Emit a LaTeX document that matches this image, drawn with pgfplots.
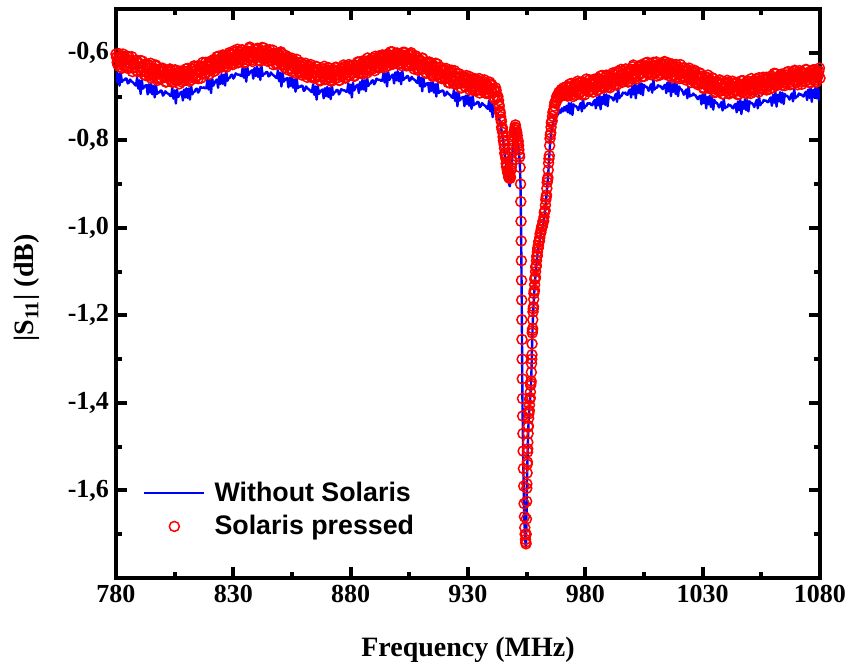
\documentclass[border=0pt]{standalone}
\usepackage{fontspec}
\setmainfont{Liberation Serif}
\newfontfamily\arialfont{Liberation Sans}
\usepackage{pgfplots}
\usepackage{pgfplotstable}
\pgfplotsset{compat=1.18}
\pgfplotstableread{
x b r
780 -0.644 -0.603
780.5 -0.668 -0.622
781 -0.648 -0.613
781.5 -0.675 -0.632
782 -0.645 -0.609
782.5 -0.667 -0.621
783 -0.662 -0.603
783.5 -0.663 -0.630
784 -0.659 -0.616
784.5 -0.659 -0.634
785 -0.670 -0.621
785.5 -0.668 -0.609
786 -0.661 -0.632
786.5 -0.665 -0.618
787 -0.667 -0.643
787.5 -0.669 -0.623
788 -0.673 -0.632
788.5 -0.675 -0.618
789 -0.657 -0.642
789.5 -0.682 -0.623
790 -0.663 -0.633
790.5 -0.694 -0.618
791 -0.663 -0.643
791.5 -0.682 -0.633
792 -0.678 -0.650
792.5 -0.675 -0.627
793 -0.674 -0.643
793.5 -0.695 -0.626
794 -0.672 -0.651
794.5 -0.691 -0.635
795 -0.671 -0.658
795.5 -0.695 -0.640
796 -0.676 -0.635
796.5 -0.702 -0.651
797 -0.672 -0.628
797.5 -0.694 -0.649
798 -0.690 -0.659
798.5 -0.691 -0.643
799 -0.686 -0.657
799.5 -0.687 -0.638
800 -0.698 -0.638
800.5 -0.695 -0.656
801 -0.688 -0.648
801.5 -0.691 -0.666
802 -0.693 -0.643
802.5 -0.694 -0.654
803 -0.698 -0.637
803.5 -0.699 -0.663
804 -0.681 -0.649
804.5 -0.705 -0.667
805 -0.686 -0.654
805.5 -0.716 -0.641
806 -0.684 -0.663
806.5 -0.701 -0.647
807 -0.696 -0.671
807.5 -0.691 -0.649
808 -0.689 -0.657
808.5 -0.709 -0.642
809 -0.684 -0.664
809.5 -0.702 -0.644
810 -0.681 -0.653
810.5 -0.703 -0.636
811 -0.682 -0.659
811.5 -0.707 -0.647
812 -0.675 -0.662
812.5 -0.695 -0.637
813 -0.690 -0.652
813.5 -0.689 -0.633
814 -0.683 -0.656
814.5 -0.682 -0.638
815 -0.691 -0.659
815.5 -0.687 -0.639
816 -0.678 -0.632
816.5 -0.680 -0.647
817 -0.680 -0.622
817.5 -0.679 -0.640
818 -0.681 -0.648
818.5 -0.681 -0.630
819 -0.661 -0.643
819.5 -0.684 -0.622
820 -0.663 -0.620
820.5 -0.692 -0.637
821 -0.659 -0.627
821.5 -0.675 -0.643
822 -0.669 -0.618
822.5 -0.664 -0.628
823 -0.661 -0.609
823.5 -0.680 -0.634
824 -0.654 -0.617
824.5 -0.671 -0.634
825 -0.649 -0.619
825.5 -0.671 -0.605
826 -0.650 -0.626
826.5 -0.675 -0.610
827 -0.643 -0.633
827.5 -0.664 -0.612
828 -0.658 -0.619
828.5 -0.657 -0.603
829 -0.651 -0.625
829.5 -0.650 -0.604
830 -0.659 -0.612
830.5 -0.655 -0.595
831 -0.647 -0.619
831.5 -0.649 -0.607
832 -0.650 -0.623
832.5 -0.650 -0.598
833 -0.652 -0.612
833.5 -0.653 -0.594
834 -0.633 -0.617
834.5 -0.657 -0.600
835 -0.636 -0.621
835.5 -0.666 -0.602
836 -0.634 -0.596
836.5 -0.651 -0.611
837 -0.646 -0.587
837.5 -0.642 -0.607
838 -0.640 -0.616
838.5 -0.659 -0.598
839 -0.635 -0.612
839.5 -0.653 -0.592
840 -0.632 -0.591
840.5 -0.655 -0.609
841 -0.636 -0.601
841.5 -0.662 -0.619
842 -0.631 -0.595
842.5 -0.653 -0.607
843 -0.648 -0.589
843.5 -0.648 -0.615
844 -0.644 -0.601
844.5 -0.644 -0.619
845 -0.654 -0.605
845.5 -0.652 -0.593
846 -0.645 -0.616
846.5 -0.649 -0.602
847 -0.651 -0.627
847.5 -0.653 -0.607
848 -0.656 -0.615
848.5 -0.658 -0.601
849 -0.640 -0.625
849.5 -0.665 -0.606
850 -0.646 -0.616
850.5 -0.677 -0.601
851 -0.646 -0.626
851.5 -0.666 -0.617
852 -0.662 -0.634
852.5 -0.659 -0.611
853 -0.658 -0.627
853.5 -0.679 -0.610
854 -0.657 -0.636
854.5 -0.676 -0.620
855 -0.656 -0.643
855.5 -0.680 -0.625
856 -0.661 -0.620
856.5 -0.689 -0.638
857 -0.659 -0.615
857.5 -0.681 -0.636
858 -0.677 -0.646
858.5 -0.678 -0.630
859 -0.675 -0.646
859.5 -0.676 -0.627
860 -0.687 -0.627
860.5 -0.685 -0.646
861 -0.677 -0.637
861.5 -0.681 -0.656
862 -0.683 -0.633
862.5 -0.685 -0.645
863 -0.688 -0.627
863.5 -0.690 -0.654
864 -0.672 -0.640
864.5 -0.696 -0.658
865 -0.677 -0.645
865.5 -0.707 -0.632
866 -0.676 -0.655
866.5 -0.694 -0.640
867 -0.689 -0.664
867.5 -0.686 -0.644
868 -0.684 -0.652
868.5 -0.704 -0.637
869 -0.681 -0.661
869.5 -0.699 -0.641
870 -0.678 -0.650
870.5 -0.701 -0.634
871 -0.681 -0.658
871.5 -0.706 -0.646
872 -0.675 -0.662
872.5 -0.696 -0.638
873 -0.691 -0.653
873.5 -0.690 -0.634
874 -0.685 -0.658
874.5 -0.685 -0.641
875 -0.695 -0.663
875.5 -0.691 -0.643
876 -0.683 -0.637
876.5 -0.685 -0.652
877 -0.686 -0.628
877.5 -0.686 -0.647
878 -0.689 -0.656
878.5 -0.689 -0.638
879 -0.670 -0.652
879.5 -0.693 -0.631
880 -0.673 -0.630
880.5 -0.702 -0.647
881 -0.669 -0.637
881.5 -0.686 -0.654
882 -0.680 -0.629
882.5 -0.675 -0.639
883 -0.673 -0.621
883.5 -0.692 -0.646
884 -0.667 -0.630
884.5 -0.684 -0.647
885 -0.662 -0.632
885.5 -0.684 -0.618
886 -0.663 -0.639
886.5 -0.688 -0.623
887 -0.656 -0.646
887.5 -0.676 -0.624
888 -0.671 -0.632
888.5 -0.670 -0.616
889 -0.664 -0.638
889.5 -0.663 -0.617
890 -0.672 -0.625
890.5 -0.668 -0.608
891 -0.659 -0.631
891.5 -0.661 -0.619
892 -0.662 -0.635
892.5 -0.662 -0.610
893 -0.664 -0.624
893.5 -0.664 -0.605
894 -0.645 -0.629
894.5 -0.668 -0.611
895 -0.647 -0.632
895.5 -0.677 -0.613
896 -0.644 -0.606
896.5 -0.662 -0.622
897 -0.657 -0.598
897.5 -0.652 -0.617
898 -0.650 -0.626
898.5 -0.670 -0.609
899 -0.645 -0.622
899.5 -0.663 -0.602
900 -0.642 -0.601
900.5 -0.665 -0.619
901 -0.646 -0.611
901.5 -0.672 -0.629
902 -0.641 -0.605
902.5 -0.662 -0.616
903 -0.658 -0.599
903.5 -0.658 -0.625
904 -0.653 -0.610
904.5 -0.654 -0.629
905 -0.664 -0.615
905.5 -0.662 -0.603
906 -0.655 -0.626
906.5 -0.659 -0.612
907 -0.661 -0.637
907.5 -0.663 -0.617
908 -0.667 -0.626
908.5 -0.669 -0.612
909 -0.651 -0.636
909.5 -0.676 -0.617
910 -0.657 -0.627
910.5 -0.688 -0.612
911 -0.657 -0.637
911.5 -0.677 -0.628
912 -0.673 -0.645
912.5 -0.670 -0.622
913 -0.669 -0.638
913.5 -0.690 -0.621
914 -0.668 -0.647
914.5 -0.687 -0.631
915 -0.667 -0.654
915.5 -0.691 -0.636
916 -0.672 -0.631
916.5 -0.700 -0.649
917 -0.670 -0.626
917.5 -0.692 -0.647
918 -0.688 -0.657
918.5 -0.689 -0.641
919 -0.686 -0.657
919.5 -0.687 -0.638
920 -0.698 -0.638
920.5 -0.696 -0.657
921 -0.689 -0.649
921.5 -0.693 -0.668
922 -0.695 -0.645
922.5 -0.697 -0.657
923 -0.701 -0.640
923.5 -0.703 -0.667
924 -0.685 -0.653
924.5 -0.710 -0.672
925 -0.691 -0.659
925.5 -0.722 -0.647
926 -0.691 -0.670
926.5 -0.709 -0.655
927 -0.705 -0.680
927.5 -0.702 -0.660
928 -0.701 -0.669
928.5 -0.722 -0.655
929 -0.698 -0.678
929.5 -0.717 -0.659
930 -0.697 -0.669
930.5 -0.721 -0.654
931 -0.702 -0.679
931.5 -0.728 -0.668
932 -0.698 -0.685
932.5 -0.720 -0.662
933 -0.716 -0.678
933.5 -0.717 -0.661
934 -0.712 -0.685
934.5 -0.713 -0.669
935 -0.724 -0.692
935.5 -0.722 -0.674
936 -0.715 -0.669
936.5 -0.718 -0.685
937 -0.720 -0.662
937.5 -0.722 -0.683
938 -0.726 -0.693
938.5 -0.728 -0.677
939 -0.709 -0.691
939.5 -0.734 -0.672
940 -0.715 -0.672
940.5 -0.747 -0.692
941 -0.717 -0.685
941.5 -0.738 -0.706
942 -0.737 -0.686
942.5 -0.737 -0.701
943.0 -0.745 -0.709
943.3 -0.752 -0.722
943.6 -0.758 -0.733
943.9 -0.766 -0.746
944.2 -0.775 -0.757
944.5 -0.785 -0.775
944.8 -0.795 -0.782
945.1 -0.806 -0.800
945.4 -0.820 -0.809
945.7 -0.834 -0.829
946.0 -0.845 -0.836
946.3 -0.858 -0.853
946.6 -0.868 -0.858
946.9 -0.880 -0.874
947.2 -0.893 -0.876
947.5 -0.900 -0.886
947.8 -0.905 -0.880
948.1 -0.892 -0.884
948.4 -0.872 -0.862
948.7 -0.850 -0.846
949.0 -0.826 -0.818
949.3 -0.806 -0.803
949.6 -0.790 -0.781
949.9 -0.780 -0.776
950.2 -0.776 -0.765
950.5 -0.782 -0.777
950.8 -0.792 -0.782
951.1 -0.802 -0.798
951.4 -0.812 -0.802
951.7 -0.826 -0.822
952.0 -0.845 -0.838
952.2 -0.868 -0.862
952.4 -0.905 -0.900
952.5 -0.945 -0.940
952.6 -0.990 -0.985
952.68 -1.035 -1.030
952.76 -1.080 -1.075
952.83 -1.125 -1.120
952.90 -1.170 -1.165
952.96 -1.215 -1.210
953.02 -1.260 -1.255
953.08 -1.305 -1.300
953.14 -1.350 -1.345
953.21 -1.395 -1.390
953.30 -1.435 -1.430
953.40 -1.475 -1.470
953.50 -1.515 -1.510
953.62 -1.555 -1.550
953.75 -1.595 -1.590
953.90 -1.635 -1.630
954.05 -1.667 -1.660
954.20 -1.692 -1.685
954.35 -1.708 -1.700
954.50 -1.720 -1.712
954.62 -1.726 -1.718
954.72 -1.730 -1.722
954.80 -1.708 -1.700
954.90 -1.672 -1.665
955.00 -1.632 -1.625
955.10 -1.592 -1.585
955.20 -1.566 -1.560
955.30 -1.541 -1.535
955.40 -1.518 -1.512
955.50 -1.496 -1.490
955.60 -1.476 -1.470
955.70 -1.458 -1.452
955.85 -1.441 -1.435
956.00 -1.426 -1.420
956.20 -1.411 -1.405
956.40 -1.396 -1.390
956.60 -1.381 -1.375
956.80 -1.361 -1.355
957.00 -1.336 -1.330
957.15 -1.306 -1.300
957.30 -1.271 -1.265
957.45 -1.241 -1.235
957.60 -1.216 -1.210
957.80 -1.191 -1.185
958.00 -1.169 -1.163
958.20 -1.151 -1.145
958.40 -1.136 -1.130
958.60 -1.121 -1.115
958.80 -1.106 -1.100
959.00 -1.094 -1.088
959.20 -1.081 -1.075
959.40 -1.071 -1.065
959.60 -1.061 -1.055
959.80 -1.053 -1.047
960.00 -1.046 -1.040
960.30 -1.036 -1.030
960.60 -1.028 -1.022
960.90 -1.018 -1.012
961.20 -1.010 -1.004
961.50 -1.003 -0.997
961.80 -0.998 -0.992
962.10 -0.991 -0.985
962.40 -0.981 -0.975
962.70 -0.968 -0.962
963.00 -0.954 -0.948
963.30 -0.936 -0.930
963.60 -0.916 -0.910
963.90 -0.897 -0.890
964.20 -0.876 -0.868
964.50 -0.851 -0.842
964.80 -0.822 -0.812
965.10 -0.800 -0.788
965.40 -0.786 -0.770
965.70 -0.776 -0.757
966.00 -0.765 -0.745
966.40 -0.758 -0.733
966.80 -0.752 -0.722
967.20 -0.748 -0.714
967.60 -0.745 -0.708
968.00 -0.742 -0.703
968.50 -0.740 -0.696
969.00 -0.730 -0.700
969.50 -0.737 -0.689
970.00 -0.727 -0.695
970.50 -0.734 -0.686
971.00 -0.724 -0.692
971.50 -0.732 -0.685
972 -0.721 -0.677
972.5 -0.736 -0.699
973 -0.715 -0.679
973.5 -0.739 -0.687
974 -0.715 -0.670
974.5 -0.742 -0.694
975 -0.718 -0.682
975.5 -0.722 -0.697
976 -0.722 -0.673
976.5 -0.725 -0.687
977 -0.731 -0.669
977.5 -0.722 -0.692
978 -0.715 -0.674
978.5 -0.734 -0.696
979 -0.705 -0.676
979.5 -0.727 -0.670
980 -0.722 -0.685
980.5 -0.721 -0.660
981 -0.715 -0.680
981.5 -0.717 -0.688
982 -0.715 -0.670
982.5 -0.719 -0.684
983 -0.720 -0.663
983.5 -0.712 -0.661
984 -0.708 -0.678
984.5 -0.727 -0.669
985 -0.702 -0.686
985.5 -0.720 -0.661
986 -0.696 -0.672
986.5 -0.729 -0.653
987 -0.701 -0.678
987.5 -0.717 -0.663
988 -0.695 -0.680
988.5 -0.719 -0.665
989 -0.695 -0.651
989.5 -0.722 -0.673
990 -0.698 -0.657
990.5 -0.702 -0.680
991 -0.701 -0.658
991.5 -0.704 -0.665
992 -0.709 -0.649
992.5 -0.701 -0.672
993 -0.694 -0.651
993.5 -0.712 -0.659
994 -0.683 -0.642
994.5 -0.704 -0.665
995 -0.699 -0.653
995.5 -0.698 -0.668
996 -0.691 -0.643
996.5 -0.693 -0.657
997 -0.691 -0.638
997.5 -0.695 -0.662
998 -0.696 -0.644
998.5 -0.688 -0.665
999 -0.684 -0.645
999.5 -0.702 -0.638
1000 -0.677 -0.653
1000.5 -0.695 -0.628
1001 -0.671 -0.648
1001.5 -0.704 -0.656
1002 -0.676 -0.638
1002.5 -0.692 -0.652
1003 -0.670 -0.631
1003.5 -0.694 -0.629
1004 -0.670 -0.646
1004.5 -0.697 -0.637
1005 -0.673 -0.654
1005.5 -0.678 -0.630
1006 -0.677 -0.640
1006.5 -0.681 -0.622
1007 -0.687 -0.648
1007.5 -0.678 -0.632
1008 -0.672 -0.650
1008.5 -0.691 -0.636
1009 -0.662 -0.622
1009.5 -0.684 -0.644
1010 -0.680 -0.629
1010.5 -0.680 -0.653
1011 -0.674 -0.632
1011.5 -0.677 -0.640
1012 -0.676 -0.625
1012.5 -0.680 -0.648
1013 -0.683 -0.629
1013.5 -0.676 -0.638
1014 -0.673 -0.622
1014.5 -0.692 -0.646
1015 -0.668 -0.635
1015.5 -0.688 -0.652
1016 -0.664 -0.628
1016.5 -0.699 -0.644
1017 -0.672 -0.626
1017.5 -0.689 -0.651
1018 -0.669 -0.635
1018.5 -0.694 -0.657
1019 -0.672 -0.639
1019.5 -0.699 -0.633
1020 -0.677 -0.650
1020.5 -0.683 -0.627
1021 -0.684 -0.648
1021.5 -0.689 -0.658
1022 -0.696 -0.642
1022.5 -0.689 -0.657
1023 -0.684 -0.638
1023.5 -0.704 -0.638
1024 -0.677 -0.657
1024.5 -0.700 -0.649
1025 -0.697 -0.668
1025.5 -0.698 -0.645
1026 -0.693 -0.657
1026.5 -0.697 -0.640
1027 -0.697 -0.667
1027.5 -0.703 -0.654
1028 -0.706 -0.673
1028.5 -0.700 -0.660
1029 -0.698 -0.648
1029.5 -0.718 -0.671
1030 -0.695 -0.657
1030.5 -0.715 -0.682
1031 -0.692 -0.662
1031.5 -0.727 -0.671
1032 -0.701 -0.657
1032.5 -0.718 -0.681
1033 -0.698 -0.662
1033.5 -0.724 -0.672
1034 -0.702 -0.657
1034.5 -0.730 -0.682
1035 -0.708 -0.672
1035.5 -0.714 -0.689
1036 -0.714 -0.665
1036.5 -0.719 -0.681
1037 -0.725 -0.663
1037.5 -0.718 -0.688
1038 -0.713 -0.672
1038.5 -0.732 -0.694
1039 -0.705 -0.676
1039.5 -0.727 -0.670
1040 -0.724 -0.687
1040.5 -0.724 -0.663
1041 -0.718 -0.683
1041.5 -0.721 -0.692
1042 -0.720 -0.675
1042.5 -0.725 -0.690
1043 -0.727 -0.670
1043.5 -0.720 -0.669
1044 -0.717 -0.687
1044.5 -0.736 -0.678
1045 -0.712 -0.696
1045.5 -0.731 -0.672
1046 -0.706 -0.682
1046.5 -0.740 -0.664
1047 -0.712 -0.689
1047.5 -0.728 -0.674
1048 -0.707 -0.692
1048.5 -0.731 -0.677
1049 -0.708 -0.664
1049.5 -0.734 -0.685
1050 -0.711 -0.670
1050.5 -0.715 -0.693
1051 -0.715 -0.672
1051.5 -0.718 -0.679
1052 -0.724 -0.664
1052.5 -0.715 -0.686
1053 -0.708 -0.665
1053.5 -0.727 -0.674
1054 -0.698 -0.657
1054.5 -0.720 -0.681
1055 -0.715 -0.669
1055.5 -0.714 -0.684
1056 -0.708 -0.660
1056.5 -0.710 -0.674
1057 -0.709 -0.656
1057.5 -0.712 -0.679
1058 -0.713 -0.661
1058.5 -0.706 -0.683
1059 -0.702 -0.663
1059.5 -0.721 -0.657
1060 -0.696 -0.672
1060.5 -0.714 -0.647
1061 -0.690 -0.667
1061.5 -0.723 -0.675
1062 -0.696 -0.658
1062.5 -0.711 -0.671
1063 -0.690 -0.651
1063.5 -0.714 -0.649
1064 -0.691 -0.667
1064.5 -0.717 -0.657
1065 -0.694 -0.675
1065.5 -0.699 -0.651
1066 -0.698 -0.661
1066.5 -0.702 -0.643
1067 -0.707 -0.668
1067.5 -0.699 -0.653
1068 -0.693 -0.671
1068.5 -0.711 -0.656
1069 -0.683 -0.643
1069.5 -0.704 -0.664
1070 -0.700 -0.649
1070.5 -0.700 -0.673
1071 -0.693 -0.651
1071.5 -0.696 -0.659
1072 -0.695 -0.644
1072.5 -0.698 -0.666
1073 -0.700 -0.646
1073.5 -0.693 -0.655
1074 -0.689 -0.638
1074.5 -0.708 -0.662
1075 -0.684 -0.651
1075.5 -0.703 -0.667
1076 -0.678 -0.642
1076.5 -0.712 -0.657
1077 -0.685 -0.639
1077.5 -0.701 -0.663
1078 -0.680 -0.646
1078.5 -0.704 -0.667
1079 -0.681 -0.648
1079.5 -0.708 -0.642
1080 -0.685 -0.658
}\data
\pgfplotstableread{
x r
780.25 -0.610
780.75 -0.627
781.25 -0.602
781.75 -0.620
782.25 -0.610
782.75 -0.635
783.25 -0.618
783.75 -0.610
784.25 -0.628
784.75 -0.608
785.25 -0.636
785.75 -0.617
786.25 -0.625
786.75 -0.609
787.25 -0.635
787.75 -0.624
788.25 -0.633
788.75 -0.617
789.25 -0.643
789.75 -0.624
790.25 -0.632
790.75 -0.643
791.25 -0.619
791.75 -0.639
792.25 -0.627
792.75 -0.652
793.25 -0.636
793.75 -0.628
794.25 -0.646
794.75 -0.624
795.25 -0.654
795.75 -0.639
796.25 -0.652
796.75 -0.630
797.25 -0.647
797.75 -0.663
798.25 -0.639
798.75 -0.643
799.25 -0.659
799.75 -0.635
800.25 -0.653
800.75 -0.642
801.25 -0.667
801.75 -0.650
802.25 -0.642
802.75 -0.659
803.25 -0.640
803.75 -0.667
804.25 -0.648
804.75 -0.655
805.25 -0.639
805.75 -0.664
806.25 -0.652
806.75 -0.659
807.25 -0.642
807.75 -0.666
808.25 -0.646
808.75 -0.653
809.25 -0.662
809.75 -0.637
810.25 -0.656
810.75 -0.642
811.25 -0.665
811.75 -0.647
812.25 -0.637
812.75 -0.653
813.25 -0.630
813.75 -0.658
814.25 -0.641
814.75 -0.652
815.25 -0.629
815.75 -0.644
816.25 -0.658
816.75 -0.632
817.25 -0.634
817.75 -0.648
818.25 -0.622
818.75 -0.638
819.25 -0.626
819.75 -0.649
820.25 -0.631
820.75 -0.621
821.25 -0.637
821.75 -0.615
822.25 -0.641
822.75 -0.620
823.25 -0.626
823.75 -0.608
824.25 -0.631
824.75 -0.618
825.25 -0.625
825.75 -0.607
826.25 -0.631
826.75 -0.610
827.25 -0.616
827.75 -0.626
828.25 -0.600
828.75 -0.618
829.25 -0.604
829.75 -0.627
830.25 -0.609
830.75 -0.599
831.25 -0.616
831.75 -0.592
832.25 -0.621
832.75 -0.604
833.25 -0.615
833.75 -0.593
834.25 -0.608
834.75 -0.623
835.25 -0.597
835.75 -0.600
836.25 -0.616
836.75 -0.590
837.25 -0.607
837.75 -0.596
838.25 -0.620
838.75 -0.602
839.25 -0.593
839.75 -0.610
840.25 -0.590
840.75 -0.617
841.25 -0.598
841.75 -0.605
842.25 -0.588
842.75 -0.614
843.25 -0.602
843.75 -0.610
844.25 -0.594
844.75 -0.619
845.25 -0.599
845.75 -0.607
846.25 -0.618
846.75 -0.594
847.25 -0.614
847.75 -0.602
848.25 -0.626
848.75 -0.610
849.25 -0.602
849.75 -0.620
850.25 -0.598
850.75 -0.628
851.25 -0.613
851.75 -0.627
852.25 -0.606
852.75 -0.623
853.25 -0.639
853.75 -0.615
854.25 -0.620
854.75 -0.637
855.25 -0.613
855.75 -0.631
856.25 -0.621
856.75 -0.647
857.25 -0.631
857.75 -0.623
858.25 -0.641
858.75 -0.622
859.25 -0.651
859.75 -0.632
860.25 -0.640
860.75 -0.624
861.25 -0.649
861.75 -0.638
862.25 -0.647
862.75 -0.631
863.25 -0.656
863.75 -0.637
864.25 -0.645
864.75 -0.655
865.25 -0.631
865.75 -0.650
866.25 -0.638
866.75 -0.662
867.25 -0.645
867.75 -0.637
868.25 -0.654
868.75 -0.631
869.25 -0.661
869.75 -0.645
870.25 -0.657
870.75 -0.635
871.25 -0.651
871.75 -0.665
872.25 -0.640
872.75 -0.643
873.25 -0.659
873.75 -0.633
874.25 -0.650
874.75 -0.639
875.25 -0.663
875.75 -0.645
876.25 -0.636
876.75 -0.652
877.25 -0.632
877.75 -0.658
878.25 -0.638
878.75 -0.644
879.25 -0.627
879.75 -0.651
880.25 -0.639
880.75 -0.646
881.25 -0.628
881.75 -0.652
882.25 -0.631
882.75 -0.637
883.25 -0.647
883.75 -0.621
884.25 -0.639
884.75 -0.625
885.25 -0.648
885.75 -0.630
886.25 -0.620
886.75 -0.636
887.25 -0.612
887.75 -0.640
888.25 -0.624
888.75 -0.635
889.25 -0.612
889.75 -0.627
890.25 -0.641
890.75 -0.615
891.25 -0.617
891.75 -0.632
892.25 -0.607
892.75 -0.623
893.25 -0.611
893.75 -0.634
894.25 -0.617
894.75 -0.607
895.25 -0.623
895.75 -0.603
896.25 -0.629
896.75 -0.609
897.25 -0.616
897.75 -0.598
898.25 -0.623
898.75 -0.611
899.25 -0.618
899.75 -0.601
900.25 -0.626
900.75 -0.606
901.25 -0.614
901.75 -0.624
902.25 -0.599
902.75 -0.618
903.25 -0.606
903.75 -0.630
904.25 -0.613
904.75 -0.605
905.25 -0.622
905.75 -0.600
906.25 -0.630
906.75 -0.615
907.25 -0.628
907.75 -0.607
908.25 -0.624
908.75 -0.640
909.25 -0.616
909.75 -0.620
910.25 -0.637
910.75 -0.613
911.25 -0.631
911.75 -0.622
912.25 -0.647
912.75 -0.631
913.25 -0.623
913.75 -0.641
914.25 -0.623
914.75 -0.651
915.25 -0.632
915.75 -0.640
916.25 -0.624
916.75 -0.651
917.25 -0.640
917.75 -0.649
918.25 -0.633
918.75 -0.659
919.25 -0.641
919.75 -0.649
920.25 -0.660
920.75 -0.636
921.25 -0.656
921.75 -0.644
922.25 -0.669
922.75 -0.653
923.25 -0.645
923.75 -0.663
924.25 -0.641
924.75 -0.671
925.25 -0.656
925.75 -0.669
926.25 -0.648
926.75 -0.664
927.25 -0.680
927.75 -0.656
928.25 -0.660
928.75 -0.677
929.25 -0.652
929.75 -0.670
930.25 -0.660
930.75 -0.685
931.25 -0.669
931.75 -0.660
932.25 -0.678
932.75 -0.659
933.25 -0.687
933.75 -0.668
934.25 -0.675
934.75 -0.659
935.25 -0.685
935.75 -0.674
936.25 -0.683
936.75 -0.666
937.25 -0.692
937.75 -0.673
938.25 -0.681
938.75 -0.692
939.25 -0.667
939.75 -0.687
940.25 -0.675
940.75 -0.701
941.25 -0.686
941.75 -0.680
942.25 -0.701
942.75 -0.700
943.15 -0.718
943.45 -0.735
943.75 -0.738
944.05 -0.752
944.35 -0.770
944.65 -0.771
944.95 -0.792
945.25 -0.803
945.55 -0.818
945.85 -0.832
946.15 -0.842
946.45 -0.861
946.75 -0.868
947.05 -0.870
947.35 -0.884
947.65 -0.876
947.95 -0.887
948.25 -0.869
948.55 -0.855
948.85 -0.828
949.15 -0.812
949.45 -0.790
949.75 -0.784
950.05 -0.770
950.35 -0.772
950.65 -0.786
950.95 -0.789
951.25 -0.808
951.55 -0.812
951.85 -0.832
955.05 -1.595
955.25 -1.540
955.45 -1.505
955.65 -1.455
955.90 -1.425
956.10 -1.417
956.30 -1.392
956.50 -1.388
956.70 -1.360
956.90 -1.350
957.10 -1.310
957.25 -1.290
957.40 -1.240
957.55 -1.230
957.70 -1.192
957.90 -1.180
958.10 -1.150
958.30 -1.142
958.50 -1.118
958.70 -1.112
958.90 -1.090
959.10 -1.086
959.30 -1.066
959.50 -1.063
959.70 -1.047
959.90 -1.046
960.15 -1.032
960.45 -1.030
960.75 -1.014
961.05 -1.010
961.35 -0.998
961.65 -0.997
961.95 -0.985
962.25 -0.984
962.55 -0.965
962.85 -0.960
963.15 -0.936
963.45 -0.925
963.75 -0.896
964.05 -0.885
964.35 -0.852
964.65 -0.835
964.95 -0.796
965.25 -0.783
965.55 -0.760
965.85 -0.755
966.20 -0.736
966.60 -0.730
967.00 -0.714
967.40 -0.715
967.80 -0.700
968.25 -0.705
968.75 -0.690
969.25 -0.697
969.75 -0.684
970.25 -0.698
970.75 -0.680
971.25 -0.696
971.75 -0.678
972.25 -0.688
972.75 -0.697
973.25 -0.672
973.75 -0.690
974.25 -0.676
974.75 -0.700
975.25 -0.682
975.75 -0.672
976.25 -0.689
976.75 -0.665
977.25 -0.694
977.75 -0.677
978.25 -0.688
978.75 -0.666
979.25 -0.681
979.75 -0.696
980.25 -0.670
980.75 -0.672
981.25 -0.688
981.75 -0.662
982.25 -0.678
982.75 -0.667
983.25 -0.690
983.75 -0.672
984.25 -0.662
984.75 -0.679
985.25 -0.658
985.75 -0.684
986.25 -0.664
986.75 -0.670
987.25 -0.652
987.75 -0.677
988.25 -0.664
988.75 -0.671
989.25 -0.653
989.75 -0.678
990.25 -0.657
990.75 -0.663
991.25 -0.672
991.75 -0.646
992.25 -0.664
992.75 -0.651
993.25 -0.674
993.75 -0.656
994.25 -0.646
994.75 -0.662
995.25 -0.638
995.75 -0.666
996.25 -0.649
996.75 -0.660
997.25 -0.637
997.75 -0.653
998.25 -0.667
998.75 -0.641
999.25 -0.643
999.75 -0.658
1000.25 -0.632
1000.75 -0.648
1001.25 -0.637
1001.75 -0.660
1002.25 -0.642
1002.75 -0.633
1003.25 -0.649
1003.75 -0.628
1004.25 -0.654
1004.75 -0.634
1005.25 -0.640
1005.75 -0.623
1006.25 -0.647
1006.75 -0.635
1007.25 -0.643
1007.75 -0.625
1008.25 -0.650
1008.75 -0.630
1009.25 -0.636
1009.75 -0.646
1010.25 -0.621
1010.75 -0.640
1011.25 -0.627
1011.75 -0.651
1012.25 -0.634
1012.75 -0.625
1013.25 -0.643
1013.75 -0.620
1014.25 -0.649
1014.75 -0.633
1015.25 -0.645
1015.75 -0.624
1016.25 -0.640
1016.75 -0.656
1017.25 -0.631
1017.75 -0.635
1018.25 -0.652
1018.75 -0.627
1019.25 -0.645
1019.75 -0.634
1020.25 -0.659
1020.75 -0.643
1021.25 -0.635
1021.75 -0.653
1022.25 -0.634
1022.75 -0.662
1023.25 -0.643
1023.75 -0.651
1024.25 -0.635
1024.75 -0.661
1025.25 -0.650
1025.75 -0.659
1026.25 -0.643
1026.75 -0.669
1027.25 -0.650
1027.75 -0.659
1028.25 -0.670
1028.75 -0.646
1029.25 -0.666
1029.75 -0.654
1030.25 -0.679
1030.75 -0.663
1031.25 -0.655
1031.75 -0.673
1032.25 -0.651
1032.75 -0.681
1033.25 -0.666
1033.75 -0.679
1034.25 -0.658
1034.75 -0.675
1035.25 -0.691
1035.75 -0.667
1036.25 -0.670
1036.75 -0.687
1037.25 -0.662
1037.75 -0.680
1038.25 -0.670
1038.75 -0.694
1039.25 -0.678
1039.75 -0.669
1040.25 -0.687
1040.75 -0.667
1041.25 -0.694
1041.75 -0.674
1042.25 -0.681
1042.75 -0.665
1043.25 -0.690
1043.75 -0.678
1044.25 -0.686
1044.75 -0.669
1045.25 -0.694
1045.75 -0.674
1046.25 -0.680
1046.75 -0.690
1047.25 -0.664
1047.75 -0.683
1048.25 -0.670
1048.75 -0.693
1049.25 -0.676
1049.75 -0.666
1050.25 -0.683
1050.75 -0.659
1051.25 -0.688
1051.75 -0.671
1052.25 -0.683
1052.75 -0.660
1053.25 -0.675
1053.75 -0.690
1054.25 -0.664
1054.75 -0.667
1055.25 -0.682
1055.75 -0.656
1056.25 -0.673
1056.75 -0.661
1057.25 -0.685
1057.75 -0.667
1058.25 -0.657
1058.75 -0.674
1059.25 -0.653
1059.75 -0.680
1060.25 -0.659
1060.75 -0.665
1061.25 -0.648
1061.75 -0.672
1062.25 -0.660
1062.75 -0.667
1063.25 -0.650
1063.75 -0.674
1064.25 -0.654
1064.75 -0.660
1065.25 -0.670
1065.75 -0.645
1066.25 -0.663
1066.75 -0.650
1067.25 -0.673
1067.75 -0.656
1068.25 -0.647
1068.75 -0.663
1069.25 -0.640
1069.75 -0.668
1070.25 -0.652
1070.75 -0.664
1071.25 -0.641
1071.75 -0.657
1072.25 -0.672
1072.75 -0.646
1073.25 -0.649
1073.75 -0.665
1074.25 -0.639
1074.75 -0.656
1075.25 -0.645
1075.75 -0.669
1076.25 -0.651
1076.75 -0.642
1077.25 -0.659
1077.75 -0.639
1078.25 -0.666
1078.75 -0.645
1079.25 -0.652
1079.75 -0.635
}\dataR
\begin{document}
\begin{tikzpicture}
\useasboundingbox (-58pt,-45.5pt) rectangle (368.5pt,289pt);
\begin{axis}[
  at={(0pt,0pt)}, anchor=south west,
  scale only axis, width=352pt, height=284.5pt,
  xmin=780, xmax=1080, ymin=-1.8, ymax=-0.5,
  xtick={780,830,880,930,980,1030,1080},
  minor xtick={805,855,905,955,1005,1055},
  ytick={-1.6,-1.4,-1.2,-1.0,-0.8,-0.6},
  minor ytick={-1.7,-1.5,-1.3,-1.1,-0.9,-0.7},
  axis line style={line width=2pt},
  every tick/.style={black, line width=2pt},
  major tick length=5.5pt, minor tick length=3pt,
  tick align=inside,
  /pgf/number format/assume math mode=true,
  ticklabel style={font=\bfseries\fontsize{13}{15}\selectfont},
  xticklabel style={/pgf/number format/1000 sep={}},
  yticklabel style={/pgf/number format/.cd, use comma, fixed, fixed zerofill, precision=1},
  xlabel={Frequency (MHz)},
  ylabel={|S\textsubscript{11}| (dB)},
  label style={font=\bfseries\fontsize{14}{16}\selectfont},
  xlabel style={at={(axis description cs:0.5,-0.126)}, anchor=center},
  ylabel style={at={(axis description cs:-0.126,0.51)}, anchor=center},
  legend style={draw=none, fill=none, at={(axis description cs:0.038,0.12)}, anchor=west,
    font=\arialfont\bfseries\fontsize{13.4}{16}\selectfont, row sep=1.5pt, column sep=2.5pt, inner sep=0pt},
  legend cell align=left,
  legend image code/.code={\draw[mark repeat=2,mark phase=2,#1] plot coordinates {(0pt,0pt) (15pt,0pt) (30pt,0pt)};},
]
\addplot[blue, line width=1.2pt, line join=round, mark=none] table[x=x,y=b]{\data};
\addlegendentry{Without Solaris}
\addplot[red, only marks, mark=o, mark size=2.5pt, mark options={line width=0.75pt}] table[x=x,y=r]{\data};
\addlegendentry{Solaris pressed}
\addplot[red, only marks, mark=o, mark size=2.5pt, mark options={line width=0.75pt}, forget plot] table[x=x,y=r]{\dataR};
\end{axis}
\end{tikzpicture}
\end{document}
